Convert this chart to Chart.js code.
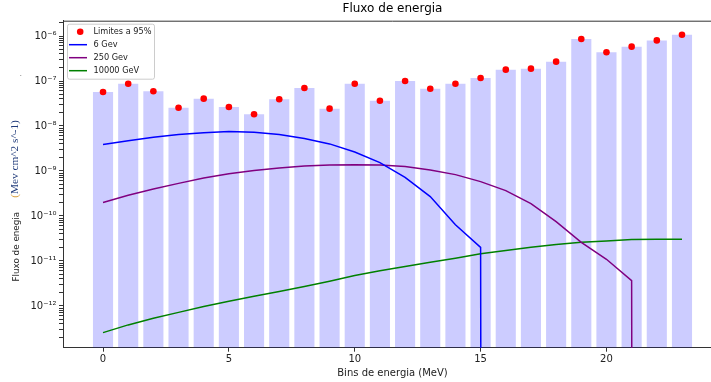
<!DOCTYPE html>
<html>
<head>
<meta charset="utf-8">
<title>Fluxo de energia</title>
<script src="https://cdn.jsdelivr.net/npm/chart.js@4/dist/chart.umd.min.js"></script>
<style>
  html, body { margin: 0; padding: 0; background: #fff; overflow: hidden; }
  /* the original figure is cut off on the right, so the canvas runs past the window */
  #wrap { width: 780px; height: 382px; }
</style>
</head>
<body>
<div id="wrap"><canvas id="flux-chart"></canvas></div>
<script>
// energy bins and the values
const bins = [0, 1, 2, 3, 4, 5, 6, 7, 8, 9, 10, 11, 12, 13, 14, 15, 16, 17, 18, 19, 20, 21, 22, 23];

const limits95 = [5.7e-8, 8.7e-8, 5.9e-8, 2.55e-8, 4.05e-8, 2.64e-8, 1.82e-8, 3.92e-8,
  7.0e-8, 2.43e-8, 8.7e-8, 3.65e-8, 1.0e-7, 6.75e-8, 8.7e-8, 1.17e-7,
  1.79e-7, 1.88e-7, 2.69e-7, 8.57e-7, 4.34e-7, 5.8e-7, 8.0e-7, 1.07e-6];

const flux6GeV = [3.9e-9, 4.7e-9, 5.6e-9, 6.5e-9, 7.1e-9, 7.5e-9, 7.25e-9, 6.5e-9,
  5.3e-9, 4.0e-9, 2.64e-9, 1.53e-9, 7.2e-10, 2.7e-10, 6.4e-11, 2.0e-11,
  0, 0, 0, 0, 0, 0, 0, 0];

const flux250GeV = [2.0e-10, 2.88e-10, 3.98e-10, 5.3e-10, 6.98e-10, 8.7e-10, 1.03e-9, 1.17e-9,
  1.29e-9, 1.36e-9, 1.38e-9, 1.36e-9, 1.25e-9, 1.05e-9, 8.3e-10, 5.8e-10,
  3.66e-10, 1.88e-10, 7.5e-11, 2.6e-11, 1.09e-11, 3.66e-12, 0, 0];

const flux10000GeV = [2.55e-13, 3.79e-13, 5.3e-13, 7.2e-13, 9.7e-13, 1.27e-12, 1.64e-12, 2.09e-12,
  2.7e-12, 3.54e-12, 4.76e-12, 6.03e-12, 7.55e-12, 9.35e-12, 1.15e-11, 1.44e-11,
  1.7e-11, 2.01e-11, 2.31e-11, 2.6e-11, 2.78e-11, 2.98e-11, 3.02e-11, 3.02e-11];

const xTicks = [0, 5, 10, 15, 20];
const yTickExps = [-13, -12, -11, -10, -9, -8, -7, -6]; // decades, minor ticks at 2..9 in each

const FONT = "'DejaVu Sans', sans-serif";
const SUP = { '-': '\u207B', '0': '\u2070', '1': '\u00B9', '2': '\u00B2', '3': '\u00B3',
  '4': '\u2074', '5': '\u2075', '6': '\u2076', '7': '\u2077', '8': '\u2078', '9': '\u2079' };
const pow10Label = (exp) => '10' + String(exp).split('').map((c) => SUP[c]).join('');

// matplotlib clips non-positive values on a log axis, so the curves fall straight off the bottom
const clipLog = (v) => (v > 0 ? v : 1e-300);
const points = (ys) => bins.map((x, i) => ({ x, y: clipLog(ys[i]) }));

// top spine (left/bottom come from the axis borders)
const spines = {
  id: 'spines',
  afterDraw(chart) {
    const { ctx, chartArea: a } = chart;
    ctx.save();
    ctx.strokeStyle = '#333';
    ctx.lineWidth = 1;
    ctx.beginPath();
    ctx.moveTo(a.left, a.top + 0.5);
    ctx.lineTo(a.right, a.top + 0.5);
    ctx.stroke();
    ctx.restore();
  },
};

// matplotlib-like legend box in the upper left corner of the plot
const boxLegend = {
  id: 'boxLegend',
  afterDraw(chart) {
    const { ctx, chartArea: a } = chart;
    const x0 = a.left + 4.5, y0 = a.top + 3.5, w = 87, h = 55;
    ctx.save();
    ctx.fillStyle = 'rgba(255,255,255,0.85)';
    ctx.strokeStyle = '#cccccc';
    ctx.lineWidth = 1;
    ctx.beginPath();
    ctx.roundRect(x0, y0, w, h, 2);
    ctx.fill();
    ctx.stroke();

    ctx.font = '8.2px ' + FONT;
    ctx.textBaseline = 'middle';
    ctx.textAlign = 'left';
    const items = chart.data.datasets.filter((d) => d.type !== 'bar');
    items.forEach((d, i) => {
      const y = y0 + 7.5 + i * 13;
      if (d.showLine === false) {
        ctx.fillStyle = d.pointBackgroundColor;
        ctx.beginPath();
        ctx.arc(x0 + 12.7, y, 3.3, 0, Math.PI * 2);
        ctx.fill();
      } else {
        ctx.strokeStyle = d.borderColor;
        ctx.lineWidth = d.borderWidth;
        ctx.beginPath();
        ctx.moveTo(x0 + 1.5, y);
        ctx.lineTo(x0 + 19.5, y);
        ctx.stroke();
      }
      ctx.fillStyle = '#222';
      ctx.fillText(d.label, x0 + 26, y + 0.5);
    });
    ctx.restore();
  },
};

// the y label is two pieces in different fonts
const yLabel = {
  id: 'yLabel',
  afterDraw(chart) {
    const { ctx } = chart;
    ctx.save();
    ctx.translate(17, 246.7);
    ctx.rotate(-Math.PI / 2);
    ctx.font = '8.8px ' + FONT;
    ctx.fillStyle = '#222';
    ctx.textAlign = 'center';
    ctx.textBaseline = 'middle';
    ctx.fillText('Fluxo de enegia', 0, 0);
    ctx.restore();

    ctx.save();
    ctx.translate(15.5, 159);
    ctx.rotate(-Math.PI / 2);
    ctx.font = "11.3px 'Liberation Serif', serif";
    ctx.textBaseline = 'middle';
    ctx.textAlign = 'left';
    const rest = 'Mev cm^2 s^-1)';
    const wOpen = ctx.measureText('(').width;
    const total = wOpen + ctx.measureText(rest).width;
    ctx.fillStyle = '#d9a040';
    ctx.fillText('(', -total / 2, 0);
    ctx.fillStyle = '#1f3a7a';
    ctx.fillText(rest, -total / 2 + wOpen, 0);
    ctx.restore();

    ctx.save();
    ctx.font = '8px ' + FONT;
    ctx.fillStyle = '#888';
    ctx.fillText('.', 19.5, 76);
    ctx.restore();
  },
};

new Chart(document.getElementById('flux-chart'), {
  type: 'bar',
  data: {
    datasets: [
      {
        type: 'line',
        label: 'Limites a 95%',
        data: points(limits95),
        showLine: false,
        pointRadius: 3.3,
        pointBorderWidth: 0,
        pointBackgroundColor: '#ff0000',
        borderColor: '#ff0000',
        order: 0,
      },
      {
        type: 'line',
        label: '6 Gev',
        data: points(flux6GeV),
        borderColor: '#0000ff',
        borderWidth: 1.5,
        pointRadius: 0,
        tension: 0,
        order: 1,
      },
      {
        type: 'line',
        label: '250 Gev',
        data: points(flux250GeV),
        borderColor: '#800080',
        borderWidth: 1.5,
        pointRadius: 0,
        tension: 0,
        order: 1,
      },
      {
        type: 'line',
        label: '10000 GeV',
        data: points(flux10000GeV),
        borderColor: '#008000',
        borderWidth: 1.5,
        pointRadius: 0,
        tension: 0,
        order: 1,
      },
      {
        type: 'bar',
        label: 'limites',
        data: bins.map((x, i) => ({ x, y: limits95[i] })),
        backgroundColor: 'rgba(0, 0, 255, 0.2)',
        borderWidth: 0,
        barPercentage: 1,
        categoryPercentage: 0.8,
        order: 2,
      },
    ],
  },
  options: {
    responsive: true,
    maintainAspectRatio: false,
    devicePixelRatio: 1,
    animation: false,
    layout: { padding: { left: 0, right: 58, top: 0, bottom: 0 } },
    plugins: {
      legend: { display: false },
      tooltip: { enabled: false },
      title: {
        display: true,
        text: 'Fluxo de energia',
        fullSize: false,
        color: '#000',
        font: { family: FONT, size: 12, weight: 'normal' },
        padding: { top: 2, bottom: 4.3 },
      },
    },
    scales: {
      x: {
        type: 'linear',
        min: -1.59,
        max: 24.59,
        offset: false,
        afterBuildTicks: (scale) => { scale.ticks = xTicks.map((v) => ({ value: v })); },
        afterFit: (scale) => { scale.height = 34.3; },
        grid: { display: true, offset: false, drawOnChartArea: false, drawTicks: true, tickLength: 4, tickColor: '#333' },
        border: { display: true, color: '#333', width: 1 },
        ticks: { color: '#222', padding: 2, font: { family: FONT, size: 10 }, maxRotation: 0, autoSkip: false },
        title: {
          display: true,
          text: 'Bins de energia (MeV)',
          color: '#222',
          font: { family: FONT, size: 10 },
          padding: { top: 0, bottom: 2.7 },
        },
      },
      y: {
        type: 'logarithmic',
        min: 1.18e-13,
        max: 2.19e-6,
        afterBuildTicks: (scale) => {
          const ticks = [];
          yTickExps.forEach((e) => {
            for (let m = 1; m <= 9; m++) {
              const v = m * Math.pow(10, e);
              if (v >= scale.min && v <= scale.max) ticks.push({ value: v, major: m === 1, exp: e });
            }
          });
          scale.ticks = ticks;
        },
        afterFit: (scale) => { scale.width = 63; },
        grid: { display: true, offset: false, drawOnChartArea: false, drawTicks: true, tickLength: 4, tickColor: '#333' },
        border: { display: true, color: '#333', width: 1 },
        ticks: {
          color: '#222',
          padding: 2.5,
          autoSkip: false,
          font: { family: FONT, size: 10 },
          callback: (value, i, ticks) => (ticks[i].major ? pow10Label(ticks[i].exp) : ''),
        },
      },
    },
  },
  plugins: [spines, boxLegend, yLabel],
});
</script>
</body>
</html>
